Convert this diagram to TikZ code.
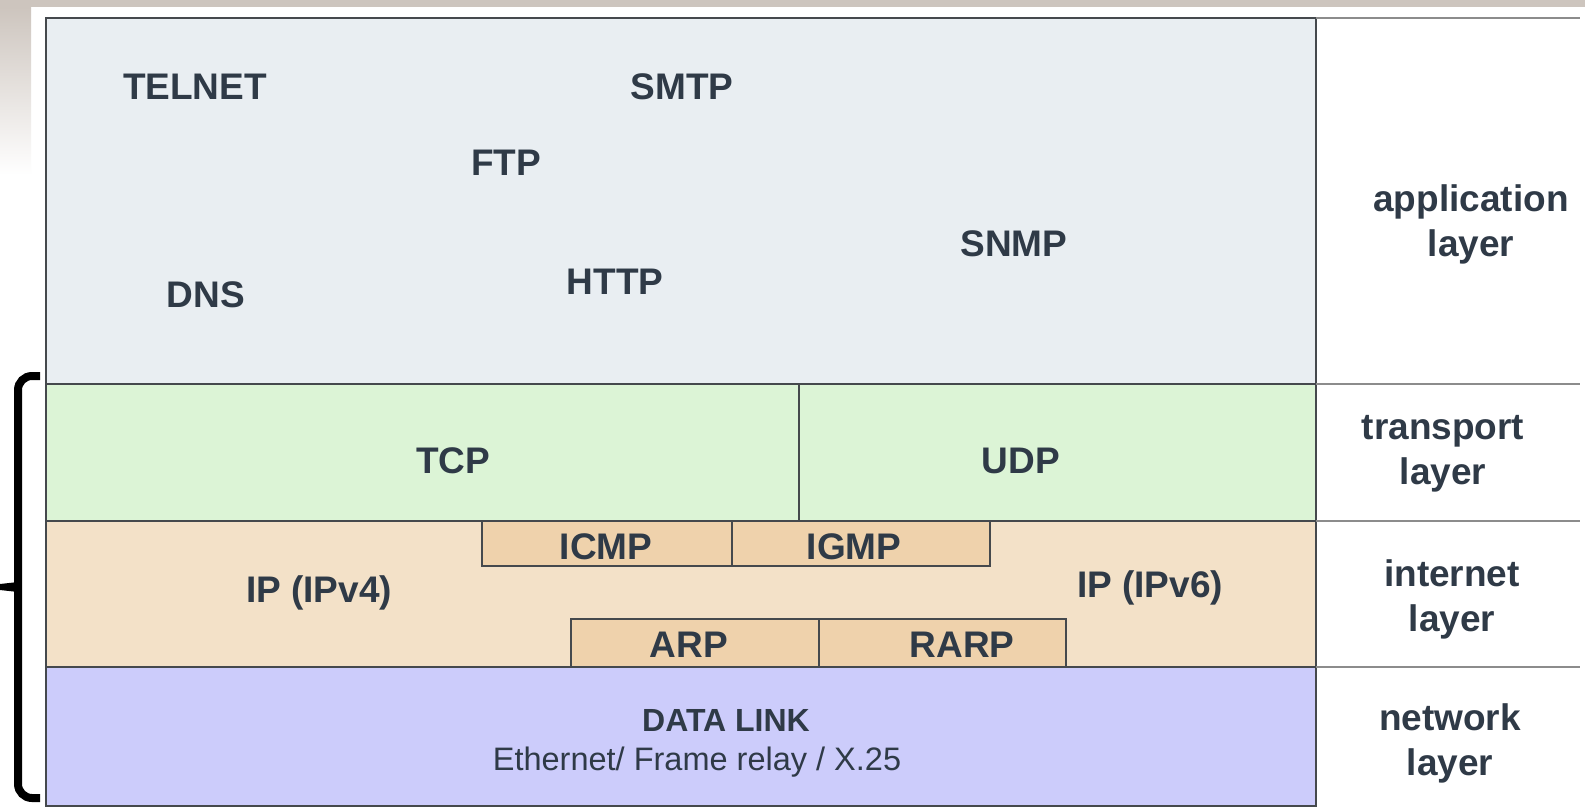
\documentclass[tikz,border=0pt]{standalone}
\usepackage{fontspec}
\setmainfont{Liberation Sans}
\definecolor{ink}{HTML}{2F3A47}
\definecolor{appfill}{HTML}{E9EEF2}
\definecolor{trfill}{HTML}{DCF4D6}
\definecolor{infill}{HTML}{F3E1C8}
\definecolor{boxfill}{HTML}{EFD2AC}
\definecolor{netfill}{HTML}{CCCCFB}
\definecolor{edge}{HTML}{45494D}
\definecolor{rulegrey}{HTML}{8C8C8C}
\definecolor{slide}{HTML}{CDC5BE}
\begin{document}
\begin{tikzpicture}[x=0.5pt,y=-0.5pt,
  proto/.style={font=\bfseries\fontsize{18.5pt}{22.5pt}\selectfont, text=ink,
                inner sep=0pt, text height=13.25pt, text depth=0pt},
  layername/.style={font=\bfseries\fontsize{18.5pt}{22.5pt}\selectfont, text=ink,
                inner sep=0pt, align=center},
  divider/.style={edge, line width=1pt},
  tickrule/.style={rulegrey, line width=1pt},
  subbox/.style={draw=edge, line width=0.9pt, fill=boxfill}]
% page and slide background
\useasboundingbox (0,0) rectangle (1585,809);
\fill[white] (0,0) rectangle (1585,809);
\fill[slide] (0,0) rectangle (1585,7);
\shade[top color=slide, bottom color=white] (0,7) rectangle (31,175);

% layer fills
\fill[appfill] (45.5,18) rectangle (1316,384);
\fill[trfill]  (45.5,384) rectangle (1316,521);
\fill[infill]  (45.5,521) rectangle (1316,667);
\fill[netfill] (45.5,667) rectangle (1316,806);

% helper protocol boxes inside the internet layer
\draw[subbox] (482,521) rectangle (990,566);
\draw[edge, line width=0.9pt] (732,521) -- (732,566);
\draw[subbox] (571,619) rectangle (1066,667);
\draw[edge, line width=0.9pt] (819,619) -- (819,667);

% frame and layer dividers
\draw[divider] (45.5,18) rectangle (1316,806);
\draw[divider] (45.5,384) -- (1316,384);
\draw[divider] (45.5,521) -- (1316,521);
\draw[divider] (45.5,667) -- (1316,667);
\draw[divider] (799,384) -- (799,521);

% rules of the layer-name column
\draw[tickrule] (1316,18) -- (1580,18);
\draw[tickrule] (1316,384) -- (1580,384);
\draw[tickrule] (1316,521) -- (1580,521);
\draw[tickrule] (1316,667) -- (1580,667);

% application protocols
\node[proto] (telnet) at (195,86) {TELNET};
\node[proto] (smtp) at (682,86) {SMTP};
\node[proto] (ftp) at (506,162) {FTP};
\node[proto] (snmp) at (1014,243) {SNMP};
\node[proto] (http) at (615,281) {HTTP};
\node[proto] (dns) at (206,294) {DNS};

% transport protocols
\node[proto] (tcp) at (453,460) {TCP};
\node[proto] (udp) at (1021,460) {UDP};

% internet protocols
\node[proto] (icmp) at (606,546) {ICMP};
\node[proto] (igmp) at (854,546) {IGMP};
\node[proto] (ipv4) at (319,589) {IP (IPv4)};
\node[proto] (ipv6) at (1150,584) {IP (IPv6)};
\node[proto] (arp) at (689,644) {ARP};
\node[proto] (rarp) at (962,644) {RARP};

% network access
\node[proto, font=\bfseries\fontsize{16pt}{20pt}\selectfont, text height=11.5pt] (dlink) at (726,720) {DATA LINK};
\node[font=\fontsize{16.25pt}{20pt}\selectfont, text=ink, inner sep=0pt,
      text height=11.6pt, text depth=0pt] (media) at (697,759) {Ethernet/ Frame relay / X.25};

% layer names
\node[layername] (lapp) at (1471,224) {application\\layer};
\node[layername] (ltr)  at (1443,454) {transport\\layer};
\node[layername] (lin)  at (1452,599) {internet\\layer};
\node[layername] (lnet) at (1450,743) {network\\layer};

% bracket grouping the lower three layers
\draw[black, line width=4pt, rounded corners=7pt]
  (40,376) -- (18,376) -- (18,798) -- (40,798);
\fill[black] (0,584) -- (18,582) -- (18,592) -- (0,590) -- cycle;
\end{tikzpicture}
\end{document}
